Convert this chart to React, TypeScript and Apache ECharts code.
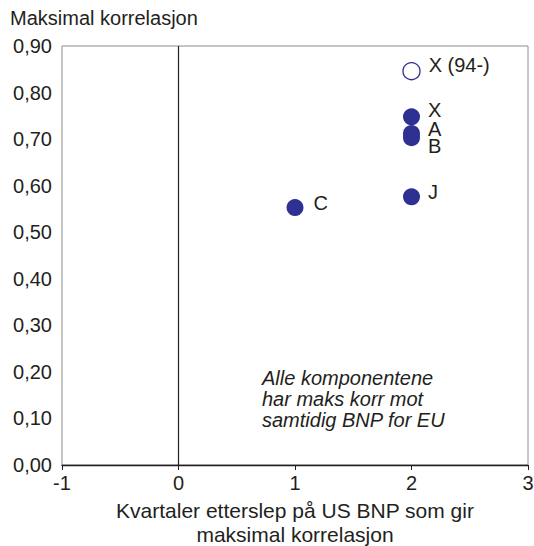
import React, { useEffect, useRef } from "react";
import * as echarts from "echarts";

const pointNames = ["X (94-)", "X", "A", "B", "J", "C"];
const lagQuarters = [2, 2, 2, 2, 2, 1];
const maxCorrelation = [0.846, 0.748, 0.712, 0.703, 0.576, 0.553];
const hollowPoints = ["X (94-)"];
const yTicks = [0, 0.1, 0.2, 0.3, 0.4, 0.5, 0.6, 0.7, 0.8, 0.9];
const xTicks = [-1, 0, 1, 2, 3];
const noteLines = ["Alle komponentene", "har maks korr mot", "samtidig BNP for EU"];

// label placement (style only)
const labelStyleByName: Record<string, { dx: number; dy: number }> = {
  "X (94-)": { dx: 0, dy: -6 },
  X: { dx: 0, dy: -7 },
  A: { dx: 0, dy: -5 },
  B: { dx: 0, dy: 8 },
  J: { dx: 0, dy: -5 },
  C: { dx: 2, dy: -5 },
};

const BLUE = "#2e3192";
const TEXT = "#231f20";
const FONT = "Liberation Sans, Arial, sans-serif";

export default function App() {
  const ref = useRef<HTMLDivElement>(null);
  useEffect(() => {
    document.body.style.margin = "0";
    document.body.style.overflow = "hidden";
    if (!ref.current) return;
    const chart = echarts.init(ref.current, undefined, { renderer: "svg" });
    const data = pointNames.map((name, i) => {
      const hollow = hollowPoints.includes(name);
      const off = labelStyleByName[name] || { dx: 0, dy: 0 };
      return {
        name,
        value: [lagQuarters[i], maxCorrelation[i]],
        itemStyle: hollow
          ? { color: "#ffffff", borderColor: BLUE, borderWidth: 1.3, opacity: 1 }
          : { color: BLUE, borderWidth: 0, opacity: 1 },
        label: { offset: [off.dx, off.dy] },
      };
    });
    chart.setOption({
      animation: false,
      textStyle: { fontFamily: FONT },
      grid: {
        left: 62,
        right: 6,
        top: 46,
        bottom: 81,
        show: true,
        borderColor: "#8a8c8e",
        borderWidth: 1,
        containLabel: false,
        outerBoundsMode: "none",
      },
      title: {
        text: "Maksimal korrelasjon",
        left: 5,
        top: 3,
        textStyle: { fontFamily: FONT, fontSize: 20, fontWeight: "normal", color: TEXT },
      },
      xAxis: {
        type: "value",
        min: xTicks[0],
        max: xTicks[xTicks.length - 1],
        interval: 1,
        name: "Kvartaler etterslep på US BNP som gir\nmaksimal korrelasjon",
        nameLocation: "middle",
        nameGap: 33,
        nameTextStyle: { fontFamily: FONT, fontSize: 21, color: TEXT, lineHeight: 24, verticalAlign: "top" },
        axisLine: { show: true, onZero: false, lineStyle: { color: "#231f20", width: 1.3 } },
        axisTick: { show: true, length: 5, lineStyle: { color: "#231f20" } },
        axisLabel: { fontFamily: FONT, fontSize: 20, color: TEXT, margin: 8 },
        splitLine: { show: false },
      },
      yAxis: {
        type: "value",
        min: yTicks[0],
        max: yTicks[yTicks.length - 1],
        interval: 0.1,
        axisLine: { show: false },
        axisTick: { show: false },
        axisLabel: {
          fontFamily: FONT,
          fontSize: 20,
          color: TEXT,
          margin: 10,
          formatter: (v: number) => v.toFixed(2).replace(".", ","),
        },
        splitLine: { show: false },
      },
      series: [
        {
          type: "scatter",
          symbol: "circle",
          symbolSize: 17,
          data,
          label: {
            show: true,
            position: "right",
            distance: 8,
            formatter: "{b}",
            fontFamily: FONT,
            fontSize: 20,
            lineHeight: 15,
            color: TEXT,
          },
          markLine: {
            silent: true,
            symbol: "none",
            label: { show: false },
            lineStyle: { color: "#231f20", type: "solid", width: 1.2 },
            data: [{ xAxis: 0 }],
          },
          z: 3,
        },
      ],
      graphic: [
        {
          type: "text",
          left: 262,
          top: 367,
          style: {
            text: noteLines.join("\n"),
            font: `italic 20px ${FONT}`,
            fill: TEXT,
            lineHeight: 21,
          },
        },
      ],
    });
    return () => chart.dispose();
  }, []);
  return <div ref={ref} style={{ width: 534, height: 546, overflow: "hidden" }} />;
}
